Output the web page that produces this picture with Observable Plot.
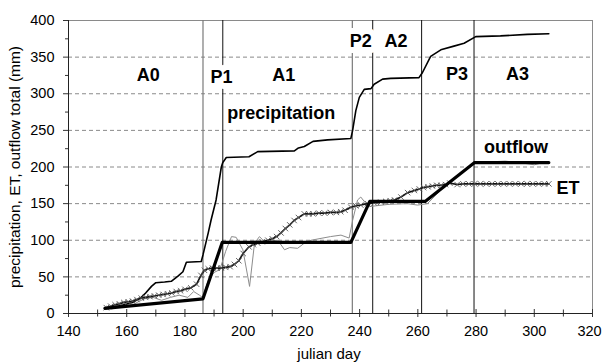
<!DOCTYPE html>
<html><head><meta charset="utf-8">
<script src="https://cdn.jsdelivr.net/npm/d3@7"></script>
<script src="https://cdn.jsdelivr.net/npm/@observablehq/plot@0.6"></script>
<style>body{margin:0;background:#fff;} svg{display:block;}</style>
</head><body><div id="chart"></div>
<script>
// ---- data ----
const precipDay = [153,158,162,165,166.5,168.5,170,173,175.3,177.6,179.3,180.5,185.6,186.2,188,189,190.7,192.5,193,194.2,202,205,217.6,219,221,224,229,237,237.6,238.7,239.9,241.6,243.9,245,247.9,250.7,260.4,261.6,264.4,267.9,272.4,275.9,279.9,288.4,297.6,305];
const precipVal = [7,11,15,22,28,37,42,43,44,51,57,70,71,80,110,128,155,200,206,213,214,221,222,226,228,235,237,239,250,277,295,306,307,313,320,321,322,329,351,360,365,369,378,379,381,382];

const outflowDay = [152.5,186.2,192.8,237,243.5,262.5,279.5,305];
const outflowVal = [7,20,97,97,153,153,206,206];

const etDay = [153,154.5,156,157.5,159,160.5,162,163.5,165,166.5,168,169.5,171,172.5,174,175.5,177,178.5,180,182,184,185.5,186.7,188,189.5,191,192.5,194,195.5,197,198.5,200,202,203.5,205,206.5,208.5,210,211.5,213,214.5,216,217.5,219,221,222.5,224,226,228,230,232,233.5,235,237,238.7,240.4,242.7,245,247.3,249,250.5,252,254.2,256.5,258.8,260.5,262,263.5,265,266.5,268,269.5,271,273.5,275.5,277.5,279.5,281.5,283.5,285.5,287.5,289.5,291.5,293.5,295.5,297.5,299.5,301.5,303.5,305];
const etVal = [8,10,12,13,15,16,17,19,21,22,23,24,25,26,27,28,30,31,33,35,40,52,59,61,62,62,62,63,64,67,72,82,91,94,96,98,100,102,105,110,116,121,127,131,136,136,136,137,137,138,138,139,141,145,147,148,150,151,152,153,154,155,159,165,168,170,172,173,174,175,175,176,178,176,177,177,177,177,177,177,177,177,177,177,177,177,177,177,177,177];

const measDay = [153,155,157,160,163,166,169,172,175,178,181,183,185,186,188,190,192,194,196,197.6,199.9,202.2,203.9,205.6,207.3,211.9,214.2,216,218.7,221,223.3,230,233.6,236.4,237.6,239.3,240.4,242.2,243.3,250,256.4,259.9,263.3,270,275,279.5,285,290,295,300,303,305];
const measVal = [10,6,14,17,14,20,22,18,22,25,22,30,25,22,45,56,60,85,105,104,87,37,96,105,98,100,87,90,89,96,100,105,107,103,127,155,159,150,146,149,150,148,150,177,193,206,207,208,206,203,206,205];

const phaseGray = [186.2, 237.5];
const phaseBlack = [193, 244.5, 261.3, 279.3];

const gridValues = [50,100,150,200,250,300,350];
const xMajor = [140,160,180,200,220,240,260,280,300,320];
const xMinor = [150,170,190,210,230,250,270,290,310];
const yMajor = [0,50,100,150,200,250,300,350,400];
const yMinor = [25,75,125,175,225,275,325,375];

const phaseLabels = ["A0","P1","A1","P2","A2","P3","A3"];
const phaseLabelX = [167.4,192.6,213.9,240.4,252.5,273.5,294.2];
const phaseLabelY = [325,323,325,372,372,327,327];
const phaseHalo = [false,true,false,true,false,false,false];

const seriesLabels = ["precipitation","outflow","ET"];
const seriesLabelX = [213.1,293.7,311.6];
const seriesLabelY = [273,226.5,171.5];

// ---- build tables ----
const zip = (xs, ys) => xs.map((x, i) => ({x, y: ys[i]}));
const precip = zip(precipDay, precipVal);
const outflow = zip(outflowDay, outflowVal);
const et = zip(etDay, etVal);
const meas = zip(measDay, measVal);
const pl = phaseLabels.map((t, i) => ({t, x: phaseLabelX[i], y: phaseLabelY[i], halo: phaseHalo[i]}));
const sl = seriesLabels.map((t, i) => ({t, x: seriesLabelX[i], y: seriesLabelY[i]}));

const font = "Arial, 'Liberation Sans', sans-serif";
const lastTick = xMajor[xMajor.length - 1];

const chart = Plot.plot({
  width: 602, height: 363,
  marginLeft: 68, marginRight: 10, marginTop: 20, marginBottom: 50,
  style: {fontFamily: font, fontSize: "14.5px", background: "white", color: "black", overflow: "visible"},
  x: {domain: [140, 320]},
  y: {domain: [0, 400]},
  marks: [
    Plot.ruleY(gridValues, {stroke: "#8a8a8a", strokeDasharray: "4,3", strokeWidth: 1}),
    Plot.frame({stroke: "#8a8a8a"}),
    Plot.ruleX(phaseGray, {stroke: "#7a7a7a", strokeWidth: 1.2}),
    Plot.ruleX(phaseBlack, {stroke: "#111", strokeWidth: 1}),
    Plot.line(meas, {x: "x", y: "y", stroke: "#8c8c8c", strokeWidth: 1}),
    Plot.line(precip, {x: "x", y: "y", stroke: "#000", strokeWidth: 1.6}),
    Plot.line(et, {x: "x", y: "y", stroke: "#111", strokeWidth: 1.6}),
    Plot.dot(et, {x: "x", y: "y", symbol: "times", r: 2.6, stroke: "#555", strokeWidth: 0.9}),
    Plot.line(outflow, {x: "x", y: "y", stroke: "#000", strokeWidth: 3.2}),
    // axes
    Plot.axisX({ticks: xMajor, tickSize: 8, dy: -4, tickFormat: () => "", label: null, stroke: "#333"}),
    Plot.axisX({ticks: xMinor, tickSize: 7, dy: -3.5, tickFormat: () => "", label: null, stroke: "#333"}),
    Plot.axisX({ticks: xMajor.slice(0, -1), tickSize: 0, tickPadding: 12, tickFormat: d => String(d), label: null, fontSize: 14.5}),
    Plot.axisX({ticks: [lastTick], tickSize: 0, tickPadding: 12, dx: -3, tickFormat: d => String(d), label: null, fontSize: 14.5}),
    Plot.ruleY([0], {stroke: "#222"}),
    Plot.axisY({ticks: yMajor, tickSize: 5, tickPadding: 9, tickFormat: d => String(d), label: null, fontSize: 14.5, stroke: "#333"}),
    Plot.axisY({ticks: yMinor, tickSize: 3, tickFormat: () => "", label: null, stroke: "#333"}),
    Plot.ruleX([140], {stroke: "#222"}),
    // labels
    Plot.text(pl.filter(d => d.halo), {x: "x", y: "y", text: "t", fontSize: 18, fontWeight: "bold", fill: "#000", stroke: "white", strokeWidth: 12, strokeLinejoin: "round"}),
    Plot.text(pl.filter(d => !d.halo), {x: "x", y: "y", text: "t", fontSize: 18, fontWeight: "bold", fill: "#000"}),
    Plot.text(sl, {x: "x", y: "y", text: "t", fontSize: 18, fontWeight: "bold", fill: "#000"})
  ]
});

const svg = d3.select(chart);
// axis titles
svg.append("text")
  .attr("x", 329).attr("y", 359)
  .attr("text-anchor", "middle")
  .attr("font-family", font).attr("font-size", 15)
  .text("julian day");
svg.append("text")
  .attr("transform", "translate(20,167) rotate(-90)")
  .attr("text-anchor", "middle")
  .attr("font-family", font).attr("font-size", 15.5)
  .text("precipitation, ET, outflow total (mm)");

document.getElementById("chart").appendChild(chart);
</script>
</body></html>
